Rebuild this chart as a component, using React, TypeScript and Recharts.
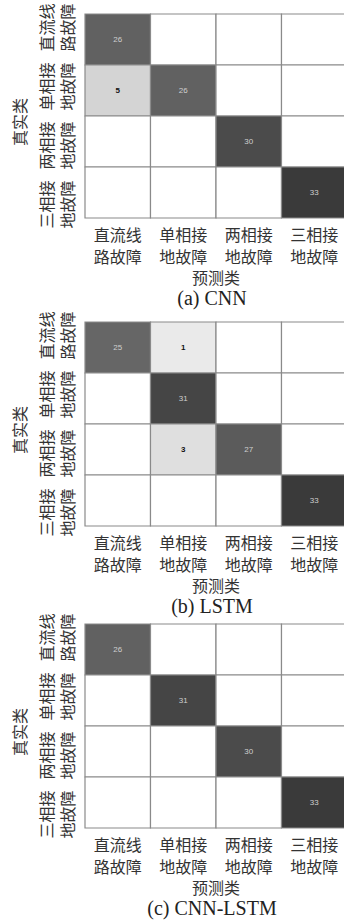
import React from 'react';
import { ScatterChart, Scatter, XAxis, YAxis, ReferenceArea } from 'recharts';

// class names, split over two lines as printed under / beside the grid
const classLines: [string, string][] = [
  ['直流线', '路故障'],
  ['单相接', '地故障'],
  ['两相接', '地故障'],
  ['三相接', '地故障'],
];

// rows = true class, columns = predicted class
const cnnMatrix = [
  [26, 0, 0, 0],
  [5, 26, 0, 0],
  [0, 0, 30, 0],
  [0, 0, 0, 33],
];

const lstmMatrix = [
  [25, 1, 0, 0],
  [0, 31, 0, 0],
  [0, 3, 27, 0],
  [0, 0, 0, 33],
];

const cnnLstmMatrix = [
  [26, 0, 0, 0],
  [0, 31, 0, 0],
  [0, 0, 30, 0],
  [0, 0, 0, 33],
];

const captions = ['(a) CNN', '(b) LSTM', '(c) CNN-LSTM'];
const xTitle = '预测类';
const yTitle = '真实类';

const CJK = '"Noto Sans CJK SC", "Noto Sans", sans-serif';
const SERIF = '"Liberation Serif", "DejaVu Serif", serif';

const tickValues = [0.5, 1.5, 2.5, 3.5];

const CHART_W = 347;
const CHART_H = 314;
const MARGIN_TOP = 10;
const Y_AXIS_W = 85;
const X_AXIS_H = 100;
const PLOT_H = CHART_H - MARGIN_TOP - X_AXIS_H;
const LABEL_SIZE = 16;

function cellFill(v: number, max: number) {
  if (v === 0) return '#ffffff';
  const g = Math.round(240 - 182 * (v / max));
  return `rgb(${g},${g},${g})`;
}

const labelStyle = { fontFamily: CJK, fontSize: LABEL_SIZE, fill: '#333' };

const XTick = (props: any) => {
  const { x, y, payload } = props;
  const [l1, l2] = classLines[Math.floor(payload.value)];
  return (
    <g>
      <text x={x} y={y + 16} textAnchor="middle" dominantBaseline="central" style={labelStyle}>{l1}</text>
      <text x={x} y={y + 38} textAnchor="middle" dominantBaseline="central" style={labelStyle}>{l2}</text>
    </g>
  );
};

// row labels are spread a little wider than the rows themselves
const YTick = (props: any) => {
  const { x, y, payload } = props;
  const [l1, l2] = classLines[Math.floor(payload.value)];
  const yy = y + (payload.value - 2) * 8;
  return (
    <g transform={`translate(${x - 39},${yy}) rotate(-90)`}>
      <text x={0} y={0} textAnchor="middle" dominantBaseline="central" style={labelStyle}>{l1}</text>
      <text x={0} y={21} textAnchor="middle" dominantBaseline="central" style={labelStyle}>{l2}</text>
    </g>
  );
};

const CountText = (props: any) => {
  const { cx, cy, payload } = props;
  const light = payload.value / payload.max < 0.5;
  return (
    <text
      x={cx}
      y={cy}
      textAnchor="middle"
      dominantBaseline="central"
      style={{
        fontFamily: '"Liberation Sans", Arial, sans-serif',
        fontSize: 8,
        fontWeight: light ? 700 : 400,
        fill: light ? '#111' : '#cfcfcf',
      }}
    >
      {payload.value}
    </text>
  );
};

const ConfusionPanel: React.FC<{ matrix: number[][]; caption: string; top: number }> = ({ matrix, caption, top }) => {
  const max = Math.max(...matrix.flat());
  const cells = matrix.flatMap((row, r) => row.map((value, c) => ({ r, c, value })));
  const points = cells
    .filter((d) => d.value > 0)
    .map((d) => ({ col: d.c + 0.5, row: d.r + 0.5, value: d.value, max }));
  const plotCenterX = Y_AXIS_W + (CHART_W - Y_AXIS_W) / 2;

  return (
    <div style={{ position: 'absolute', left: 0, top, width: CHART_W, height: CHART_H }}>
      <ScatterChart width={CHART_W} height={CHART_H} margin={{ top: MARGIN_TOP, right: 0, bottom: 0, left: 0 }}>
        <XAxis
          type="number"
          dataKey="col"
          domain={[0, 4]}
          ticks={tickValues}
          interval={0}
          height={X_AXIS_H}
          axisLine={false}
          tickLine={false}
          tickSize={0}
          tickMargin={0}
          tick={<XTick />}
        />
        <YAxis
          type="number"
          dataKey="row"
          domain={[0, 4]}
          reversed
          ticks={tickValues}
          interval={0}
          width={Y_AXIS_W}
          axisLine={false}
          tickLine={false}
          tickSize={0}
          tickMargin={0}
          tick={<YTick />}
        />
        {cells.map((d) => (
          <ReferenceArea
            key={`${d.r}-${d.c}`}
            x1={d.c}
            x2={d.c + 1}
            y1={d.r}
            y2={d.r + 1}
            fill={cellFill(d.value, max)}
            fillOpacity={1}
            stroke="#8a8a8a"
            strokeWidth={1.2}
            ifOverflow="visible"
          />
        ))}
        <Scatter data={points} isAnimationActive={false} shape={<CountText />} />
      </ScatterChart>
      <div
        style={{
          position: 'absolute',
          left: plotCenterX,
          top: MARGIN_TOP + PLOT_H + 59,
          transform: 'translate(-50%, -50%)',
          fontFamily: CJK,
          fontSize: LABEL_SIZE,
          color: '#333',
          whiteSpace: 'nowrap',
          lineHeight: 1,
        }}
      >
        {xTitle}
      </div>
      <div
        style={{
          position: 'absolute',
          left: plotCenterX - 4,
          top: MARGIN_TOP + PLOT_H + 80,
          transform: 'translate(-50%, -50%)',
          fontFamily: SERIF,
          fontSize: 20,
          color: '#222',
          whiteSpace: 'nowrap',
          lineHeight: 1,
        }}
      >
        {caption}
      </div>
      <div
        style={{
          position: 'absolute',
          left: 19,
          top: MARGIN_TOP + PLOT_H / 2 + 6,
          transform: 'translate(-50%, -50%) rotate(-90deg)',
          fontFamily: CJK,
          fontSize: LABEL_SIZE,
          color: '#333',
          whiteSpace: 'nowrap',
          lineHeight: 1,
        }}
      >
        {yTitle}
      </div>
    </div>
  );
};

export default function App() {
  return (
    <div style={{ position: 'relative', width: 344, height: 924, overflow: 'hidden', background: '#fff' }}>
      <style>{'body{margin:0}'}</style>
      <ConfusionPanel matrix={cnnMatrix} caption={captions[0]} top={4} />
      <ConfusionPanel matrix={lstmMatrix} caption={captions[1]} top={312} />
      <ConfusionPanel matrix={cnnLstmMatrix} caption={captions[2]} top={614} />
    </div>
  );
}
